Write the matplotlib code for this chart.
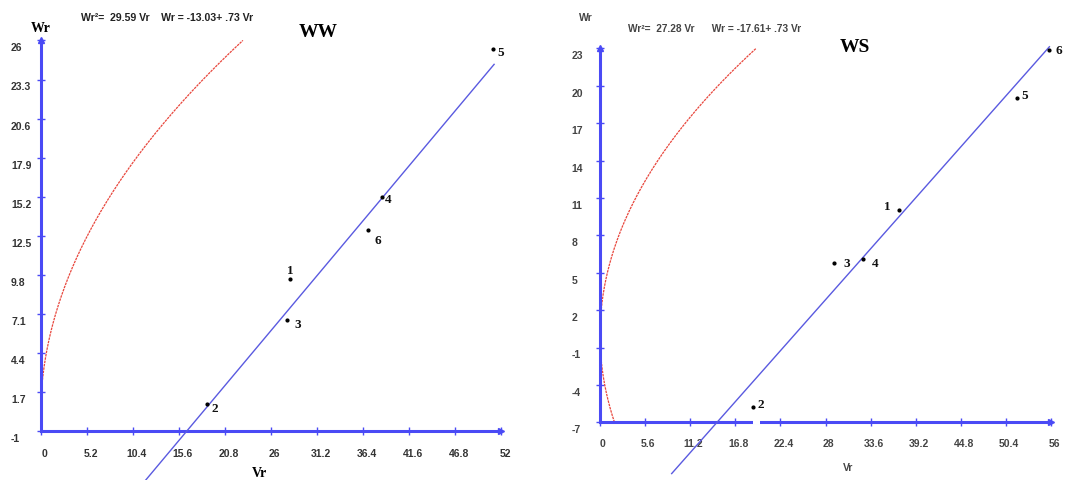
import numpy as np
import matplotlib.pyplot as plt

# WW panel: fitted curve Wr^2 = a*Vr and line Wr = b + c*Vr
ww_sq_coef = 29.59
ww_intercept = -13.03
ww_slope = 0.73
ww_ids = ['1', '2', '3', '4', '5', '6']
ww_vr = [28.2, 18.8, 27.8, 38.5, 51.1, 37.0]
ww_wr = [9.5, 0.9, 6.7, 15.2, 25.4, 12.9]
ww_xticks = [0, 5.2, 10.4, 15.6, 20.8, 26, 31.2, 36.4, 41.6, 46.8, 52]
ww_xlabels = ['0', '5.2', '10.4', '15.6', '20.8', '26', '31.2', '36.4', '41.6', '46.8', '52']
ww_yticks = [-1, 1.7, 4.4, 7.1, 9.8, 12.5, 15.2, 17.9, 20.6, 23.3, 26]
ww_ylabels = ['-1', '1.7', '4.4', '7.1', '9.8', '12.5', '15.2', '17.9', '20.6', '23.3', '26']
ww_line_vr = (11.0, 51.2)
ww_curve_wr = (0, 26)

# WS panel
ws_sq_coef = 27.28
ws_intercept = -17.61
ws_slope = 0.73
ws_ids = ['1', '2', '3', '4', '5', '6']
ws_vr = [37.1, 19.0, 29.1, 32.7, 51.8, 55.8]
ws_wr = [10.0, -5.8, 5.8, 6.1, 19.0, 22.9]
ws_xticks = [0, 5.6, 11.2, 16.8, 22.4, 28, 33.6, 39.2, 44.8, 50.4, 56]
ws_xlabels = ['0', '5.6', '11.2', '16.8', '22.4', '28', '33.6', '39.2', '44.8', '50.4', '56']
ws_yticks = [-7, -4, -1, 2, 5, 8, 11, 14, 17, 20, 23]
ws_ylabels = ['-7', '-4', '-1', '2', '5', '8', '11', '14', '17', '20', '23']
ws_line_vr = (8.9, 55.8)
ws_curve_wr = (-7, 23)

# label offsets in pixels (x right, y up)
ww_offsets = [(0, 9), (8, -4), (11, -4), (7, -2), (7, -3), (10, -10)]
ws_offsets = [(-11, 4), (8, 3), (12, 0), (12, -4), (8, 3), (9, 0)]

W, H = 1070, 481
AX_BLUE = '#4a4af5'
LINE_BLUE = '#5a5ae0'
RED = '#e8463c'
serif = 'Liberation Serif'
sans = 'Liberation Sans'

fig = plt.figure(figsize=(W / 100, H / 100), dpi=100)


def make_panel(rect, xticks, xlabels, yticks, ylabels, ylab_dx, xlab_dy, xlab_dx, tick_color):
    x0, x1, y0, y1 = rect
    ax = fig.add_axes([x0 / W, (H - y0) / H, (x1 - x0) / W, (y0 - y1) / H])
    ax.set_xlim(xticks[0], xticks[-1])
    ax.set_ylim(yticks[0], yticks[-1])
    ax.patch.set_alpha(0)
    for s in ['top', 'right']:
        ax.spines[s].set_visible(False)
    for s in ['bottom', 'left']:
        ax.spines[s].set_color(AX_BLUE)
        ax.spines[s].set_linewidth(2.2)
    ax.set_xticks(xticks)
    ax.set_yticks(yticks)
    ax.set_xticklabels([])
    ax.set_yticklabels([])
    ax.tick_params(direction='inout', length=6, width=1, color=AX_BLUE)
    ax.plot([xticks[-1]], [yticks[0]], marker='>', color=AX_BLUE, ms=5, clip_on=False, zorder=6)
    ax.plot([xticks[0]], [yticks[-1]], marker='^', color=AX_BLUE, ms=5, clip_on=False, zorder=6)
    for v, lab in zip(yticks, ylabels):
        ax.annotate(lab, xy=(0, v), xycoords=('axes fraction', 'data'),
                    xytext=(ylab_dx, -7), textcoords='offset pixels',
                    ha='left', va='center', fontsize=7.5, fontweight='bold',
                    color=tick_color, family=sans, annotation_clip=False)
    for v, lab in zip(xticks, xlabels):
        ax.annotate(lab, xy=(v, 0), xycoords=('data', 'axes fraction'),
                    xytext=(xlab_dx, -xlab_dy), textcoords='offset pixels',
                    ha='center', va='center', fontsize=7.5, fontweight='bold',
                    color=tick_color, family=sans, annotation_clip=False)
    return ax


def draw_content(ax, sq_coef, intercept, slope, curve_wr, line_vr, vr, wr, ids, offsets):
    w = np.linspace(curve_wr[0], curve_wr[1], 400)
    ax.plot(w ** 2 / sq_coef, w, color=RED, lw=0.9, ls=(0, (2, 0.7)), zorder=2)
    lv = np.array(line_vr)
    ax.plot(lv, intercept + slope * lv, color=LINE_BLUE, lw=1.0, clip_on=False, zorder=3)
    ax.scatter(vr, wr, s=4, color='black', zorder=5, clip_on=False)
    for x, y, t, (dx, dy) in zip(vr, wr, ids, offsets):
        ax.annotate(t, xy=(x, y), xytext=(dx, dy), textcoords='offset pixels',
                    ha='center', va='center', fontsize=9.5, fontweight='bold',
                    family=serif, color='#111111', annotation_clip=False)


# left panel (WW)
ax1 = make_panel((40.5, 501.2, 432.4, 41.4), ww_xticks, ww_xlabels, ww_yticks, ww_ylabels,
                 -29.5, 22, 4, '#333333')
draw_content(ax1, ww_sq_coef, ww_intercept, ww_slope, ww_curve_wr, ww_line_vr,
             ww_vr, ww_wr, ww_ids, ww_offsets)

# right panel (WS)
ax2 = make_panel((600, 1051, 423.3, 49.3), ws_xticks, ws_xlabels, ws_yticks, ws_ylabels,
                 -28.5, 21, 3, '#444444')
draw_content(ax2, ws_sq_coef, ws_intercept, ws_slope, ws_curve_wr, ws_line_vr,
             ws_vr, ws_wr, ws_ids, ws_offsets)
# small break in the WS horizontal axis, under point 2
ax2.plot([19.0, 19.9], [-7, -7], color='white', lw=4, solid_capstyle='butt',
         clip_on=False, zorder=4)


def ftext(x, y, s, **kw):
    fig.text(x / W, 1 - y / H, s, ha='center', va='center', **kw)


ftext(318, 33, 'WW', fontsize=14, fontweight='bold', family=serif)
ftext(855, 48, 'WS', fontsize=14, fontweight='bold', family=serif)
ftext(41, 28, 'Wr', fontsize=10, fontweight='bold', family=serif)
ftext(259, 474, 'Vr', fontsize=10, fontweight='bold', family=serif)
ftext(586, 18, 'Wr', fontsize=7.5, fontweight='bold', family=sans, color='#444444')
ftext(848, 468, 'Vr', fontsize=7.5, fontweight='bold', family=sans, color='#444444')

ftext(167, 18, 'Wr\u00b2=  29.59 Vr    Wr = -13.03+ .73 Vr', fontsize=7.6,
      family=sans, color='#222222', fontweight='bold')
ftext(715, 29, 'Wr\u00b2=  27.28 Vr      Wr = -17.61+ .73 Vr', fontsize=7.3,
      family=sans, color='#444444', fontweight='bold')

fig.savefig('out.png', dpi=100)
